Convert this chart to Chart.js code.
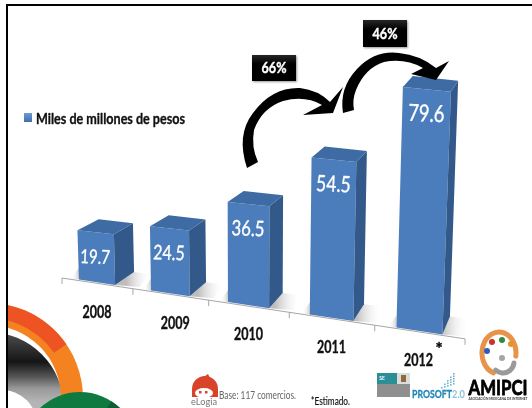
<!DOCTYPE html>
<html>
<head>
<meta charset="utf-8">
<style>
	html, body { margin: 0; padding: 0; background: #fff; }
	#chartBox { width: 532px; height: 408px; }
</style>
<script src="https://cdn.jsdelivr.net/npm/chart.js@4"></script>
</head>
<body>
<div id="chartBox"><canvas id="chartCanvas"></canvas></div>
<script>
const categories = ['2008', '2009', '2010', '2011', '2012']
const pesos = [19.7, 24.5, 36.5, 54.5, 79.6]
const seriesName = 'Miles de millones de pesos'
const growthLabels = ['66%', '46%']
const baseNote = 'Base: 117 comercios.'
const estimateNote = '*Estimado.'

const FONT = 'Lato, "Open Sans", sans-serif'

// the picture is a 3D chart seen from the left, these bend the flat scales into that view
function bendX(area, x) {
	const t = (x - area.left) / (area.right - area.left)
	return area.left + (area.right - area.left) * (0.85 * t + 0.15 * t * t)
}
function floorY(x) { return 278 + 0.151 * (x - 62) }
function depthX(x) { return 23 - 0.035 * x }

function poly(ctx, pts, fill) {
	ctx.beginPath()
	ctx.moveTo(pts[0][0], pts[0][1])
	for (let i = 1; i < pts.length; i++) ctx.lineTo(pts[i][0], pts[i][1])
	ctx.closePath()
	ctx.fillStyle = fill
	ctx.fill()
}

// heavy > 0 thickens the glyphs, the reference text is blurred and fat
function text(ctx, str, x, y, font, color, width, align, heavy) {
	ctx.font = font
	ctx.fillStyle = color
	ctx.textAlign = align || 'center'
	ctx.textBaseline = 'middle'
	ctx.fillText(str, x, y, width)
	if (heavy) {
		ctx.strokeStyle = color
		ctx.lineWidth = heavy
		ctx.lineJoin = 'round'
		ctx.strokeText(str, x, y, width)
	}
}

const bars3d = {
	id: 'bars3d',
	afterDatasetsDraw(chart) {
		const ctx = chart.ctx
		const area = chart.chartArea
		const perUnit = area.height / chart.scales.y.max
		const bars = chart.getDatasetMeta(0).data

		// axis line and ticks
		ctx.save()
		ctx.strokeStyle = '#a6a6a6'
		ctx.lineWidth = 1
		ctx.beginPath()
		ctx.moveTo(area.left, floorY(area.left))
		ctx.lineTo(area.right, floorY(area.right))
		const step = (area.right - area.left) / categories.length
		for (let i = 0; i <= categories.length; i++) {
			const tx = bendX(area, area.left + i * step)
			ctx.moveTo(tx, floorY(tx))
			ctx.lineTo(tx, floorY(tx) + 6)
		}
		ctx.stroke()

		bars.forEach((bar, i) => {
			const xl = bendX(area, bar.x - bar.width / 2)
			const xr = bendX(area, bar.x + bar.width / 2)
			const cx = (xl + xr) / 2
			const h = (bar.base - bar.y) / perUnit
			const botL = [xl, floorY(xl) - 1]
			const botR = [xr, floorY(xr) - 1]
			const k = 2.5 + 0.00165 * (xl - 80)
			const height = h * k
			const topL = [xl + height * (-0.03 + 0.00018 * (xl - 80)), botL[1] - height]
			const topR = [xr + height * (-0.03 + 0.00018 * (xr - 80)), topL[1] + 0.105 * (xr - xl)]
			const dr = depthX(topR[0])
			const sideTop = [topR[0] + dr, topR[1] - 11]
			const sideBot = [botR[0] + depthX(botR[0]), botR[1] - 11.2 - 0.0154 * botR[0]]
			const backL = [topL[0] + depthX(topL[0]) + 1, topL[1] - 11]

			// floor shadow
			const sh = ctx.createLinearGradient(sideBot[0] - 8, 0, sideBot[0] + 18, 0)
			sh.addColorStop(0, '#bdbdbd')
			sh.addColorStop(1, 'rgba(255,255,255,0)')
			poly(ctx, [botR, sideBot, [sideBot[0] + 16, sideBot[1] + 2], [botR[0] + 24, botR[1] + 2]], sh)
			const shl = ctx.createLinearGradient(botL[0] - 8, 0, botL[0], 0)
			shl.addColorStop(0, 'rgba(255,255,255,0)')
			shl.addColorStop(1, '#cfcfcf')
			poly(ctx, [[botL[0], botL[1] - 12], botL, [botL[0] - 8, botL[1] - 1]], shl)

			// front face
			poly(ctx, [topL, topR, botR, botL], '#4b7dbc')
			// side and top
			poly(ctx, [topR, sideTop, sideBot, botR], '#33598a')
			poly(ctx, [topL, backL, sideTop, topR], '#3e6ba3')

			// value
			const val = chart.data.datasets[0].data[i].toFixed(1)
			const size = 18 + 0.0135 * cx
			ctx.save()
			ctx.translate((topL[0] + topR[0]) / 2 - 0.5, topL[1] + 27)
			ctx.rotate(0.04)
			ctx.font = size + 'px ' + FONT
			const w = ctx.measureText(val).width
			text(ctx, val, 0, 0, size + 'px ' + FONT, '#fff', w * 0.78, 'center', 0.35)
			ctx.restore()

			// category label
			text(ctx, chart.data.labels[i], cx + labelNudge[i], floorY(cx) + 29, 'bold 16.5px ' + FONT, '#111', 29, 'center', 0.35)
		})
		ctx.restore()
	},
}
const labelNudge = [0, 5, 0, 0, -1]

function arrow(ctx, pts) {
	ctx.beginPath()
	ctx.moveTo(pts[0][0], pts[0][1])
	for (let i = 1; i < pts.length; i++) {
		const p = pts[i]
		if (p.length === 4) ctx.quadraticCurveTo(p[0], p[1], p[2], p[3])
		else ctx.lineTo(p[0], p[1])
	}
	ctx.closePath()
	ctx.fillStyle = '#000'
	ctx.fill()
}

function growthBox(ctx, label, x, y, w, h) {
	ctx.save()
	ctx.shadowColor = 'rgba(0,0,0,0.4)'
	ctx.shadowBlur = 2
	ctx.shadowOffsetX = 1
	ctx.shadowOffsetY = 1
	const g = ctx.createLinearGradient(0, y, 0, y + h)
	g.addColorStop(0, '#262626')
	g.addColorStop(0.35, '#000')
	g.addColorStop(1, '#000')
	ctx.fillStyle = g
	ctx.fillRect(x, y, w, h)
	ctx.restore()
	text(ctx, label, x + w / 2, y + h / 2, 'bold 16px ' + FONT, '#fff', 25, 'center', 0.4)
}

function ring(ctx, cx, cy, r0, r1, a0, a1, fill) {
	ctx.beginPath()
	ctx.arc(cx, cy, r1, a0, a1)
	ctx.arc(cx, cy, r0, a1, a0, true)
	ctx.closePath()
	ctx.fillStyle = fill
	ctx.fill()
}

function cornerArt(ctx) {
	ctx.save()
	ctx.beginPath()
	ctx.rect(7, 290, 140, 118)
	ctx.clip()

	// dark disc, tucked under the orange ring
	const dark = ctx.createLinearGradient(0, 335, 0, 402)
	dark.addColorStop(0, '#4a4a4a')
	dark.addColorStop(0.4, '#151515')
	dark.addColorStop(0.62, '#555')
	dark.addColorStop(0.8, '#999')
	dark.addColorStop(1, '#b5b5b5')
	ctx.beginPath()
	ctx.arc(-12, 408, 76, 0, Math.PI * 2)
	ctx.fillStyle = dark
	ctx.fill()
	ctx.beginPath()
	ctx.arc(2, 425, 35, 0, Math.PI * 2)
	ctx.fillStyle = '#fff'
	ctx.fill()

	const cx = -12, cy = 398
	ring(ctx, cx, cy, 73, 95, -1.75, 0.1, '#f58220')
	ring(ctx, cx, cy, 80, 95, -1.75, -0.6, '#ee5423')

	ctx.beginPath()
	ctx.arc(80, 450, 58, 0, Math.PI * 2)
	ctx.fillStyle = '#0f7a40'
	ctx.fill()
	ring(ctx, 80, 450, 0, 58, -1.0, -0.5, '#0a5f32')
	ctx.restore()
}

function logos(ctx) {
	// eLogia
	ctx.beginPath()
	ctx.arc(205, 389, 13, Math.PI, 0)
	ctx.lineTo(218, 397)
	ctx.lineTo(192, 397)
	ctx.closePath()
	ctx.fillStyle = '#d8432a'
	ctx.fill()
	poly(ctx, [[202, 378], [208, 374], [211, 380]], '#d8432a')
	ctx.beginPath()
	ctx.ellipse(204, 393, 9, 5, 0, 0, Math.PI * 2)
	ctx.fillStyle = '#fff'
	ctx.fill()
	ctx.fillStyle = '#d8432a'
	ctx.fillRect(199, 391, 2.5, 2.5)
	ctx.fillRect(205, 391, 2.5, 2.5)
	text(ctx, 'eLogia', 204, 402, '10px ' + FONT, '#777', 26)

	// SE
	ctx.fillStyle = '#2a8f96'
	ctx.fillRect(377, 373, 20, 11)
	ctx.fillStyle = '#dcdcdc'
	ctx.fillRect(397, 373, 13, 11)
	ctx.fillStyle = '#8f8f8f'
	ctx.fillRect(377, 384, 33, 13)
	ctx.fillStyle = '#8c6a3a'
	ctx.fillRect(401, 375, 5, 7)
	text(ctx, 'SE', 382, 378, 'bold 5px ' + FONT, '#fff', 8)

	// Prosoft
	text(ctx, 'PROSOFT', 412, 394, 'bold 12px ' + FONT, '#1f86b8', 40, 'left', 0.3)
	text(ctx, '2.0', 452, 394, 'bold 12px ' + FONT, '#8fc4d8', 13, 'left')
	ctx.fillStyle = '#6fb3cc'
	for (let i = 0; i < 5; i++) {
		for (let j = 0; j <= i; j++) ctx.fillRect(441 + i * 3, 387 - j * 2.5 - i, 1.6, 1.6)
	}

	// AMIPCI
	ctx.lineCap = 'round'
	ctx.strokeStyle = '#e8934a'
	ctx.lineWidth = 5
	ctx.beginPath()
	ctx.ellipse(499, 353, 17, 21, 0, 1.9, Math.PI * 2 + 0.15)
	ctx.stroke()
	ctx.strokeStyle = '#9a9a9a'
	ctx.lineWidth = 5
	ctx.beginPath()
	ctx.arc(503, 362, 11, 0.1, 2.3)
	ctx.stroke()
	const balls = [[487, 351, '#2f5fb5'], [492, 342, '#c8322b'], [502, 340, '#2e8b3d'], [511, 344, '#e8932a'], [502, 358, '#a5a5a5']]
	balls.forEach(b => {
		ctx.beginPath()
		ctx.arc(b[0], b[1], 3, 0, Math.PI * 2)
		ctx.fillStyle = b[2]
		ctx.fill()
	})
	text(ctx, 'AMIPCI', 498, 389, 'bold 20px ' + FONT, '#000', 59, 'center', 0.8)
	text(ctx, 'ASOCIACIÓN MEXICANA DE INTERNET', 498, 398.5, 'bold 4px ' + FONT, '#333', 59)
}

const backdrop = {
	id: 'backdrop',
	beforeDraw(chart) {
		const ctx = chart.ctx
		ctx.save()
		ctx.fillStyle = '#fff'
		ctx.fillRect(0, 0, 532, 408)
		cornerArt(ctx)
		ctx.fillStyle = '#000'
		ctx.fillRect(6, 4, 526, 2)
		ctx.fillRect(6, 4, 2, 404)
		ctx.restore()
	},
	afterDraw(chart) {
		const ctx = chart.ctx
		ctx.save()

		// legend
		const sq = ctx.createLinearGradient(0, 113, 0, 122)
		sq.addColorStop(0, '#6f9bd6')
		sq.addColorStop(1, '#3d6eae')
		ctx.fillStyle = sq
		ctx.fillRect(24, 113, 8, 9)
		text(ctx, chart.data.datasets[0].label, 36, 119, 'bold 15px ' + FONT, '#111', 149, 'left', 0.35)

		// growth arrows
		arrow(ctx, [[247, 168], [236, 135, 253, 113], [272, 87, 300, 88], [318, 90, 330, 102], [343, 87], [333, 113], [303, 115], [322, 105], [305, 95, 283, 101], [262, 108, 254, 130], [251, 147, 258, 162]])
		arrow(ctx, [[343, 113], [339, 88, 357, 69], [375, 50, 399, 53], [420, 55, 436, 68], [449, 61], [436, 80], [411, 74], [423, 68], [405, 58, 384, 62], [365, 68, 356, 90], [352, 100, 354, 110]])
		growthBox(ctx, growthLabels[0], 252, 55, 44, 26)
		growthBox(ctx, growthLabels[1], 363, 20, 44, 27)

		// notes
		text(ctx, '*', 439, 350, 'bold 17px ' + FONT, '#000', undefined, 'center', 0.4)
		text(ctx, baseNote, 219, 395, '11.5px ' + FONT, '#666', 77, 'left')
		text(ctx, estimateNote, 311, 401, '11.5px ' + FONT, '#111', 39, 'left', 0.15)
		logos(ctx)
		ctx.restore()
	},
}

new Chart(document.getElementById('chartCanvas'), {
	type: 'bar',
	data: {
		labels: categories,
		datasets: [{
			label: seriesName,
			data: pesos,
			backgroundColor: 'rgba(0,0,0,0)',
			barPercentage: 0.51,
			categoryPercentage: 1,
		}],
	},
	options: {
		responsive: true,
		maintainAspectRatio: false,
		animation: false,
		events: [],
		layout: { padding: { left: 62, right: 67, top: 80, bottom: 88 } },
		plugins: {
			legend: { display: false },
			tooltip: { enabled: false },
		},
		scales: {
			x: { display: false },
			y: { display: false, min: 0, max: 80 },
		},
	},
	plugins: [backdrop, bars3d],
})
</script>
</body>
</html>
